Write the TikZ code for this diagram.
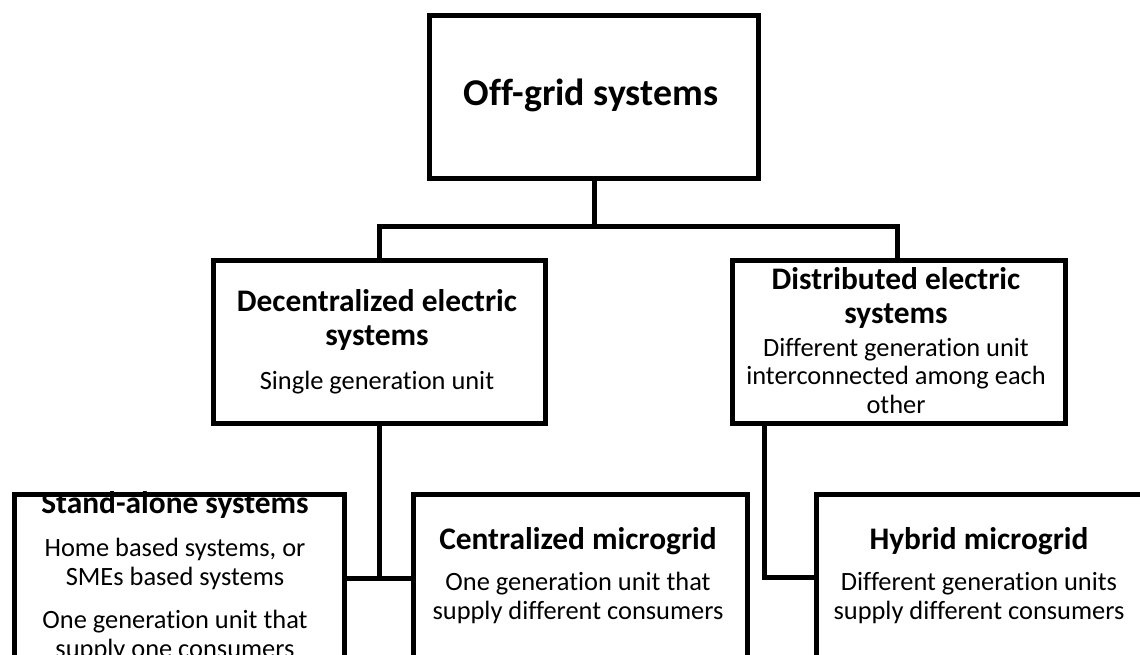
\documentclass[tikz,border=0pt]{standalone}
\usepackage{fontspec}
\setmainfont{Carlito}[Ligatures=NoCommon]
\begin{document}
\begin{tikzpicture}[x=1bp,y=-1bp,line join=miter,
  box/.style={draw,line width=5bp,inner sep=0pt,anchor=north west},
  head/.style={font=\bfseries\fontsize{31.5}{35}\selectfont,align=center,inner sep=0pt},
  note/.style={font=\fontsize{26.5}{28.5}\selectfont,align=center,inner sep=0pt},
  link/.style={line width=5bp}]
  \useasboundingbox (0,0) rectangle (1140,655);
  \clip (0,0) rectangle (1140,655);
%%
  % Text: top
  \node[head,font=\bfseries\fontsize{38}{44}\selectfont] (toptitle) at (591,95) {Off-grid systems};
  % Text: decentralized
  \node[head] (dectitle) at (377,320) {Decentralized electric\\systems};
  \node[note] (decnote) at (377,383) {Single generation unit};
  % Text: distributed
  \node[head] (disttitle) at (896,298) {Distributed electric\\systems};
  \node[note] (distnote) at (896,376) {Different generation unit\\interconnected among each\\other};
  % Text: stand-alone
  \node[head] (alonetitle) at (175,505) {Stand-alone systems};
  \node[note] (alonenote) at (175,564) {Home based systems, or\\SMEs based systems};
  \node[note] (alonemore) at (175,636) {One generation unit that\\supply one consumers};
  % Text: centralized
  \node[head] (centtitle) at (578,541) {Centralized microgrid};
  \node[note] (centnote) at (578,598) {One generation unit that\\supply different consumers};
  % Text: hybrid
  \node[head] (hybtitle) at (979,541) {Hybrid microgrid};
  \node[note] (hybnote) at (979,598) {Different generation units\\supply different consumers};
%%
  % Node: top
  \node[box,minimum width=329bp,minimum height=163bp] (top) at (427,13) {};
  % Node: decentralized
  \node[box,minimum width=332bp,minimum height=163bp] (dec) at (211,258) {};
  % Node: distributed
  \node[box,minimum width=333bp,minimum height=163bp] (dist) at (730,258) {};
  % Node: stand-alone
  \node[box,minimum width=330bp,minimum height=167bp] (alone) at (12,492) {};
  % Node: centralized
  \node[box,minimum width=334bp,minimum height=167bp] (cent) at (411,492) {};
  % Node: hybrid
  \node[box,minimum width=340bp,minimum height=166bp] (hyb) at (814,492) {};
%%
  % Edge: top -> dec, dist
  \draw[link] (top.south) -- ++(0,45) coordinate (fork);
  \draw[link] (dec.north) |- (fork) -| ([xshift=-1.5bp]dist.north);
  % Edge: dec -> alone, cent
  \draw[link] (alone.east) -- (cent.west);
  \draw[link] (dec.south) -- (dec.south |- alone.east);
  % Edge: dist -> hyb
  \draw[link] ([xshift=34bp]dist.south west) |- (hyb.west);
%
\end{tikzpicture}
\end{document}
